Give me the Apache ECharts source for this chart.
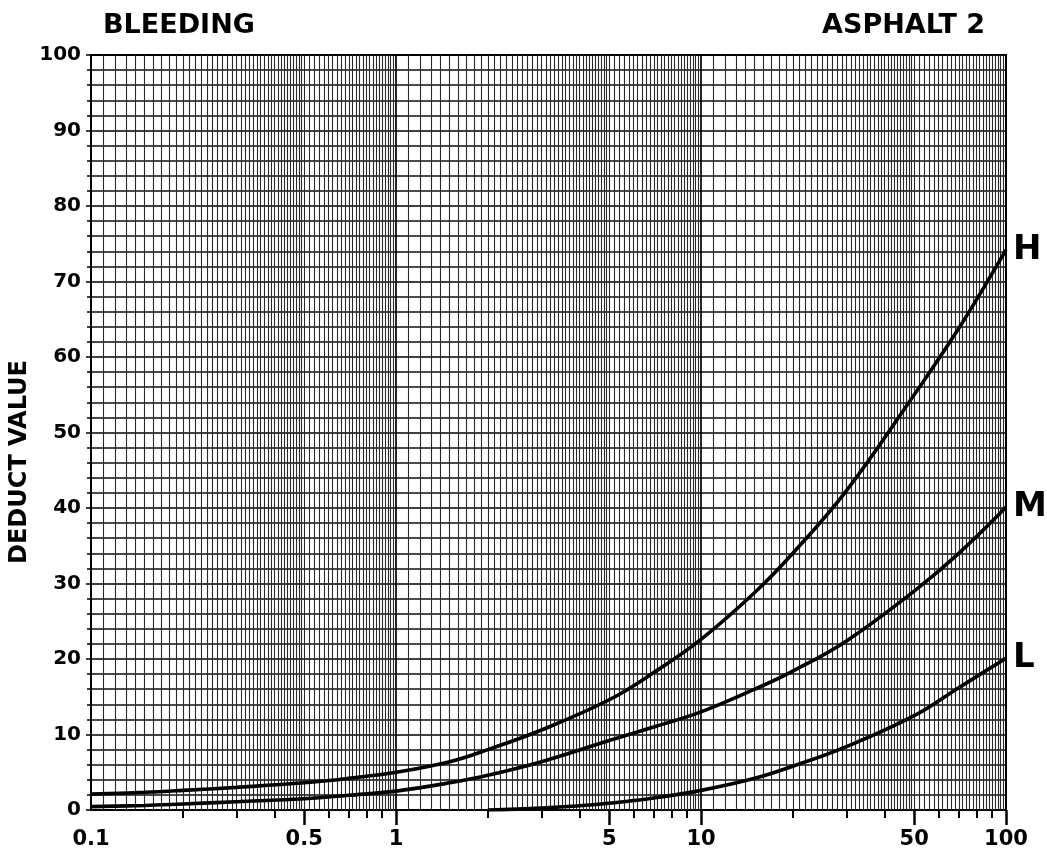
<!DOCTYPE html>
<html><head><meta charset="utf-8">
<script src="https://cdn.jsdelivr.net/npm/echarts@6/dist/echarts.min.js"></script>
<style>html,body{margin:0;padding:0;background:#fff}#c{width:1047px;height:858px}</style>
</head><body><div id="c"></div>
<script>
// ---- data ----
const densityH = [0.1, 0.15, 0.2, 0.3, 0.5, 0.7, 1, 1.5, 2, 3, 5, 7, 10, 15, 20, 30, 50, 70, 100];
const deductH  = [2.1, 2.35, 2.6, 3.0, 3.6, 4.2, 5.0, 6.4, 8.0, 10.6, 14.6, 18.2, 22.6, 28.8, 34.0, 42.3, 55.0, 63.8, 74.2];
const densityM = [0.1, 0.15, 0.2, 0.3, 0.5, 0.7, 1, 1.5, 2, 3, 5, 7, 10, 15, 20, 30, 50, 70, 100];
const deductM  = [0.45, 0.6, 0.8, 1.1, 1.5, 1.95, 2.5, 3.6, 4.6, 6.4, 9.2, 11.0, 13.0, 16.0, 18.4, 22.4, 29.0, 34.0, 40.1];
const densityL = [2, 3, 5, 7, 10, 15, 20, 30, 50, 70, 100];
const deductL  = [0, 0.25, 0.9, 1.6, 2.6, 4.2, 5.8, 8.4, 12.5, 16.2, 20.1];
const xTickLabels = [0.1, 0.5, 1, 5, 10, 50, 100];
const xLongTicks  = [0.5, 1, 5, 10, 50, 100];
const yTickLabels = [0, 10, 20, 30, 40, 50, 60, 70, 80, 90, 100];

// ---- log graph-paper rulings ----
const decades = [0.1, 1, 10];
const vLines = [];
const shortTicks = [];
decades.forEach(d => {
  for (let i = 11; i < 20; i++) vLines.push(+(d * i / 10).toPrecision(6));
  for (let i = 20; i < 50; i++) vLines.push(+(d * i / 10).toPrecision(6));
  for (let i = 50; i < 100; i += 2) vLines.push(+(d * i / 10).toPrecision(6));
  [2, 3, 4, 6, 7, 8, 9].forEach(k => shortTicks.push(+(d * k).toPrecision(6)));
});
const majorV = [0.1, 1, 10, 100];

const pair = (xs, ys) => xs.map((x, i) => [x, ys[i]]);
const FONT = 'DejaVu Sans';
const curve = (name, xs, ys) => ({
  type: 'line', name, data: pair(xs, ys), smooth: 0.4, symbol: 'none', z: 10,
  lineStyle: { color: '#000', width: 3.6 },
  endLabel: { show: true, formatter: name, distance: 7, fontSize: 34, fontWeight: 'bold', fontFamily: FONT, color: '#000' }
});

const chart = echarts.init(document.getElementById('c'), null, { renderer: 'canvas' });
chart.setOption({
  animation: false,
  backgroundColor: '#fff',
  title: [
    { text: 'BLEEDING', left: 98, top: 7, textStyle: { fontSize: 27, fontWeight: 'bold', fontFamily: FONT, color: '#000' } },
    { text: 'ASPHALT 2', right: 57, top: 7, textStyle: { fontSize: 27, fontWeight: 'bold', fontFamily: FONT, color: '#000' } }
  ],
  graphic: [
    { type: 'text', x: 20, y: 462, rotation: Math.PI / 2, silent: true,
      style: { text: 'DEDUCT VALUE', fontSize: 24, fontWeight: 'bold', fontFamily: FONT, fill: '#000', align: 'center', verticalAlign: 'middle' } }
  ],
  grid: { left: 91, right: 41, top: 55, bottom: 48, outerBoundsMode: 'none', containLabel: false,
    show: true, borderColor: '#000', borderWidth: 2, backgroundColor: 'transparent' },
  xAxis: [
    { type: 'log', logBase: 10, min: 0.1, max: 100, position: 'bottom',
      axisLine: { show: true, lineStyle: { color: '#000', width: 2 } },
      axisTick: { show: true, customValues: shortTicks, length: 8, lineStyle: { color: '#000', width: 2 } },
      axisLabel: { show: false }, splitLine: { show: false } },
    { type: 'log', logBase: 10, min: 0.1, max: 100, position: 'bottom',
      axisLine: { show: false },
      axisTick: { show: true, customValues: xLongTicks, length: 15, lineStyle: { color: '#000', width: 2.5 } },
      axisLabel: { show: true, customValues: xTickLabels, margin: 19, fontSize: 21, fontWeight: 'bold', fontFamily: FONT, color: '#000',
        formatter: v => String(v) },
      splitLine: { show: false } }
  ],
  yAxis: {
    type: 'value', min: 0, max: 100, interval: 10,
    axisLine: { show: true, lineStyle: { color: '#000', width: 2 } },
    axisTick: { show: true, length: 5, lineStyle: { color: '#000', width: 1.5 } },
    minorTick: { show: true, splitNumber: 5, length: 4, lineStyle: { color: '#000', width: 1.5 } },
    axisLabel: { margin: 10, fontSize: 20, fontWeight: 'bold', fontFamily: FONT, color: '#000' },
    splitLine: { show: true, lineStyle: { color: '#000', width: 1.7 } },
    minorSplitLine: { show: true, lineStyle: { color: '#111', width: 1.5 } }
  },
  series: [
    { type: 'line', name: 'rulings', data: [], silent: true, z: 2,
      markLine: { silent: true, symbol: 'none', animation: false, label: { show: false },
        data: vLines.map(v => ({ xAxis: v, lineStyle: { color: '#2a2a2a', width: 1.1, type: 'solid' } }))
          .concat(majorV.map(v => ({ xAxis: v, lineStyle: { color: '#000', width: 1.7, type: 'solid' } }))) } },
    curve('H', densityH, deductH),
    curve('M', densityM, deductM),
    curve('L', densityL, deductL)
  ]
});
</script></body></html>
